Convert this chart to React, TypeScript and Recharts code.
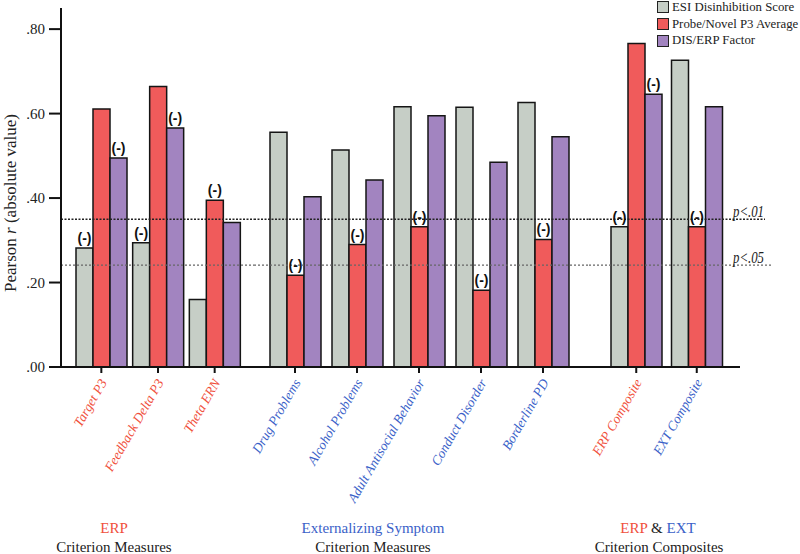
import React from 'react';
import { BarChart, Bar, XAxis, YAxis, ReferenceLine, LabelList, Legend } from 'recharts';

// signed Pearson r values; bars show |r|, negatives get a "(-)" marker
const erpMeasures = ['Target P3', 'Feedback Delta P3', 'Theta ERN'];
const erpEsi = [-0.282, -0.294, 0.16];
const erpP3 = [0.611, 0.664, -0.395];
const erpDis = [-0.495, -0.566, 0.342];

const extMeasures = ['Drug Problems', 'Alcohol Problems', 'Adult Antisocial Behavior', 'Conduct Disorder', 'Borderline PD'];
const extEsi = [0.556, 0.514, 0.616, 0.615, 0.626];
const extP3 = [-0.217, -0.29, -0.332, -0.182, -0.302];
const extDis = [0.403, 0.443, 0.595, 0.485, 0.545];

const composites = ['ERP Composite', 'EXT Composite'];
const compositeKind = ['erp', 'ext'];
const compEsi = [-0.332, 0.726];
const compP3 = [0.766, -0.332];
const compDis = [-0.646, 0.616];

const critical = [
  { label: 'p<.01', r: 0.35 },
  { label: 'p<.05', r: 0.241 },
];
const yTicks = [0, 0.2, 0.4, 0.6, 0.8];

const SERIF = "'Liberation Serif', 'Times New Roman', Tinos, 'DejaVu Serif', serif";
const SANS = "'Liberation Sans', Arial, sans-serif";
const RED = '#f0503c';
const BLUE = '#3a5fc8';
const series = [
  { key: 'esi', name: 'ESI Disinhibition Score', fill: '#c6cec6' },
  { key: 'p3', name: 'Probe/Novel P3 Average', fill: '#f05b5b' },
  { key: 'dis', name: 'DIS/ERP Factor', fill: '#a284c0' },
];

const build = (names: string[], esi: number[], p3: number[], dis: number[]) =>
  names.map((name, i) => ({
    name,
    esi: Math.abs(esi[i]), esiR: esi[i],
    p3: Math.abs(p3[i]), p3R: p3[i],
    dis: Math.abs(dis[i]), disR: dis[i],
  }));

const erpData = build(erpMeasures, erpEsi, erpP3, erpDis);
const extData = build(extMeasures, extEsi, extP3, extDis);
const compData = build(composites, compEsi, compP3, compDis);

const H = 554;
const margin = { top: 8, bottom: 47 };

const NegMark = (props: any) => {
  const { x, y, width, value } = props;
  if (value >= 0) return null;
  return (
    <text x={x + width / 2} y={y - 5} textAnchor="middle" style={{ fontFamily: SANS }} fontWeight="bold" fontSize={14} fill="#111">
      (-)
    </text>
  );
};

const CatTick = (props: any) => {
  const { x, y, payload, colorOf } = props;
  const ax = x + 2;
  const ay = y + 5;
  return (
    <text
      x={ax}
      y={ay}
      transform={`rotate(-60 ${ax} ${ay})`}
      textAnchor="end"
      dy="0.35em"
      style={{ fontFamily: SERIF }}
      fontStyle="italic"
      fontSize={13.5}
      fill={colorOf(payload.value)}
    >
      {payload.value}
    </text>
  );
};

const renderBars = () =>
  series.map((s) => (
    <Bar key={s.key} dataKey={s.key} name={s.name} fill={s.fill} stroke="#151515" strokeWidth={1.5} isAnimationActive={false}>
      <LabelList dataKey={`${s.key}R`} content={NegMark} />
    </Bar>
  ));

const axisStroke = { stroke: '#111', strokeWidth: 2 };

const xAxis = (pad: { left: number; right: number }, colorOf: (v: string) => string) => (
  <XAxis
    dataKey="name"
    interval={0}
    padding={pad}
    axisLine={axisStroke}
    tickLine={axisStroke}
    tickSize={6}
    height={140}
    tick={<CatTick colorOf={colorOf} />}
  />
);

const refLines = (extend: boolean) =>
  critical.map((c, i) => (
    <ReferenceLine
      key={c.label}
      y={c.r}
      stroke={i === 0 ? '#222' : '#666'}
      strokeWidth={i === 0 ? 1.6 : 1.2}
      strokeDasharray={i === 0 ? '2 1.5' : '2 2'}
      shape={
        extend
          ? (p: any) => (
              <g>
                <line x1={p.x1} y1={p.y1} x2={p.x2 + (i === 0 ? 25 : 31)} y2={p.y2} stroke={p.stroke} strokeWidth={p.strokeWidth} strokeDasharray={p.strokeDasharray} />
                <text x={p.x2 - 7} y={p.y1 - 2} style={{ fontFamily: SERIF }} fontStyle="italic" fontSize={16} textLength={31} lengthAdjust="spacingAndGlyphs" fill="#222">
                  {c.label}
                </text>
              </g>
            )
          : undefined
      }
    />
  ));

const LegendBox = (props: any) => {
  const items = [...(props.payload || [])].sort(
    (a: any, b: any) => series.findIndex((s) => s.name === a.value) - series.findIndex((s) => s.name === b.value),
  );
  return (
    <div style={{ fontFamily: SERIF, fontSize: 12.8, color: '#222', whiteSpace: 'nowrap' }}>
      {items.map((e: any) => (
        <div key={e.value} style={{ display: 'flex', alignItems: 'center', height: 16.7 }}>
          <span style={{ width: 10, height: 10, background: e.color, border: '1.5px solid #222', marginRight: 3, flex: 'none' }} />
          <span>{e.value}</span>
        </div>
      ))}
    </div>
  );
};

export default function App() {
  return (
    <div style={{ position: 'absolute', left: 0, top: 0, width: 800, height: H, background: '#fff', overflow: 'hidden' }}>
      {/* the three panels sit side by side; let rotated tick labels spill past their own svg */}
      <style>{'.recharts-surface { overflow: visible; }'}</style>
      <svg width={800} height={H} style={{ position: 'absolute', left: 0, top: 0, fontFamily: SERIF }}>
        <text transform="translate(16 203) rotate(-90)" textAnchor="middle" fontSize={17} fill="#222">
          Pearson <tspan fontStyle="italic">r</tspan> (absolute value)
        </text>
        <g fontSize={15} textAnchor="middle">
          <text x={114} y={533} fill={RED}>ERP</text>
          <text x={114} y={552} fill="#222">Criterion Measures</text>
          <text x={373} y={533} fill={BLUE}>Externalizing Symptom</text>
          <text x={373} y={552} fill="#222">Criterion Measures</text>
          <text x={658} y={533}>
            <tspan fill={RED}>ERP</tspan>
            <tspan fill="#222"> &amp; </tspan>
            <tspan fill={BLUE}>EXT</tspan>
          </text>
          <text x={659} y={552} fill="#222">Criterion Composites</text>
        </g>
      </svg>

      <div style={{ position: 'absolute', left: 0, top: 0 }}>
        <BarChart width={254} height={H} data={erpData} margin={{ ...margin, left: 0, right: 0 }} barSize={17} barGap={0}>
          {xAxis({ left: 12, right: 11 }, () => RED)}
          <YAxis
            domain={[0, 0.85]}
            ticks={yTicks}
            width={61}
            axisLine={axisStroke}
            tickLine={axisStroke}
            tickSize={12}
            tickMargin={4}
            tickFormatter={(v: number) => v.toFixed(2).replace(/^0/, '')}
            tick={{ style: { fontFamily: SERIF }, fontSize: 15, fill: '#222' }}
          />
          {refLines(false)}
          {renderBars()}
        </BarChart>
      </div>

      <div style={{ position: 'absolute', left: 254, top: 0 }}>
        <BarChart width={335} height={H} data={extData} margin={{ ...margin, left: 0, right: 0 }} barSize={17} barGap={0}>
          {xAxis({ left: 10, right: 15 }, () => BLUE)}
          <YAxis hide domain={[0, 0.85]} />
          {refLines(false)}
          {renderBars()}
        </BarChart>
      </div>

      <div style={{ position: 'absolute', left: 589, top: 0 }}>
        <BarChart width={211} height={H} data={compData} margin={{ ...margin, left: 0, right: 60 }} barSize={17} barGap={0}>
          {xAxis({ left: 17, right: 13 }, (v) => (compositeKind[composites.indexOf(v)] === 'erp' ? RED : BLUE))}
          <YAxis hide domain={[0, 0.85]} />
          {refLines(true)}
          {renderBars()}
          <Legend
            layout="vertical"
            align="center"
            verticalAlign="middle"
            content={<LegendBox />}
            wrapperStyle={{ top: -1, left: 68, width: 143, height: 52 }}
          />
        </BarChart>
      </div>
    </div>
  );
}
